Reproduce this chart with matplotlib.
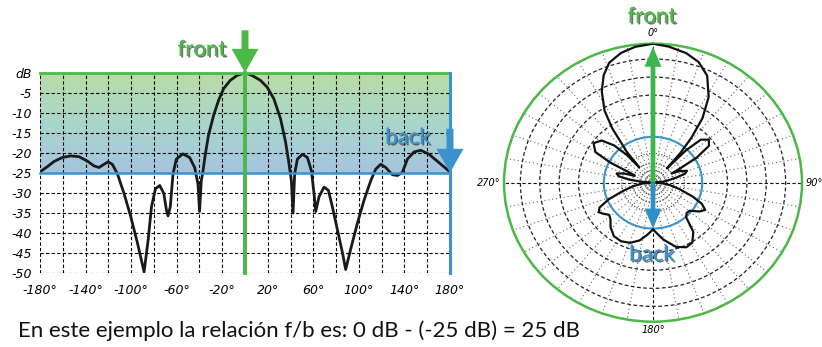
import numpy as np
import matplotlib
matplotlib.use("Agg")
import matplotlib.pyplot as plt
import matplotlib.colors as mcolors
import matplotlib.patheffects as pe

# pattern (angle in degrees, level in dB)
angles = [-180, -173.6, -167.7, -160.4, -153, -145.7, -138.4, -132.6, -128.2, -123.8,
          -120.3, -116.5, -112, -106.2, -100.3, -94.5, -88.6, -85.0, -82.1, -78.6,
          -74.8, -71.3, -69, -67.6, -65.6, -63.2, -60.3, -54.5, -48.6, -44.2,
          -41.3, -39.9, -38.4, -37.1, -35, -32.1, -27.6, -23.2, -18.8, -12.9,
          -7, 0, 6.2, 13.5, 19.4, 25.3, 31.2, 35.6, 38.5, 40.7,
          42.2, 43.6, 46, 50.4, 54.8, 58.3, 60.6, 62.1, 65, 69.4,
          73.2, 76.7, 81.1, 85.5, 88.4, 92.8, 98.7, 104.5, 110.4, 114.8,
          119.2, 123.6, 129.4, 133.8, 138.2, 142.6, 148.5, 154.3, 161.6, 170.4, 180]
levels = [-24.8, -23.5, -22.2, -21.2, -20.8, -21.0, -22.1, -23.3, -23.7, -22.9,
          -22.3, -22.9, -25.3, -30.2, -36, -42.5, -49.8, -41.7, -33.5, -29,
          -28.2, -30.2, -34.3, -35.8, -33.5, -25.3, -21.6, -20.3, -21.2, -23.7,
          -27.8, -34.7, -27, -25, -20.7, -15.7, -10.7, -6.9, -4, -1.9,
          -0.7, 0, -0.7, -1.9, -3.6, -6.5, -11.5, -17.3, -22.5, -27,
          -35.1, -25.3, -21.6, -20.4, -21.2, -24.5, -30.2, -34.7, -31, -28.6,
          -29.4, -33.5, -39.2, -44.9, -49.2, -44.1, -37.6, -31.9, -27, -24.1,
          -22.9, -23.7, -25.5, -25.7, -24.9, -21.6, -19.8, -19.4, -20.4, -22.5, -24.8]

front_db = 0
back_db = -25

x_ticks = [-180, -140, -100, -60, -20, 20, 60, 100, 140, 180]
y_ticks = [0, -5, -10, -15, -20, -25, -30, -35, -40, -45, -50]
y_labels = ['dB'] + [str(v) for v in y_ticks[1:]]

# radial scale of the polar chart (dB -> relative radius)
ring_db = [-50, -45, -40, -35, -30, -25, -20, -15, -10, -5, 0]
ring_r = [0, 0.05, 0.09, 0.14, 0.21, 0.33, 0.50, 0.63, 0.76, 0.89, 1.0]

green = '#4cb848'
blue = '#3a93cc'

fig = plt.figure(figsize=(8.22, 3.47), dpi=100)
fig.patch.set_facecolor('white')

# ---------------- rectangular plot ----------------
ax = fig.add_axes([40/822, 1-272.7/347, 410/822, 200/347])
ax.set_xlim(-180, 180)
ax.set_ylim(-50, 0)

grad = mcolors.LinearSegmentedColormap.from_list('fb', ['#a4c5df', '#a9d6cb', '#b9dca6'])
ax.imshow(np.linspace(0, 1, 256).reshape(-1, 1), extent=[-180, 180, back_db, front_db],
          aspect='auto', cmap=grad, origin='lower', zorder=0)

ax.set_xticks(x_ticks)
ax.set_xticks(range(-160, 180, 40), minor=True)
ax.set_xticklabels([f'{v}°' for v in x_ticks])
ax.set_yticks(y_ticks)
ax.set_yticklabels(y_labels)
ax.grid(True, which='both', color='black', linestyle=(0, (3, 2)), linewidth=0.8)
ax.tick_params(which='both', length=0, labelsize=9)
ax.tick_params(axis='x', pad=8)
ax.tick_params(axis='y', pad=6)
for lbl in ax.get_xticklabels() + ax.get_yticklabels():
    lbl.set_fontstyle('italic')
for s in ax.spines.values():
    s.set_visible(False)

ax.plot(angles, levels, color='#1a1a1a', lw=2, zorder=4)
ax.axhline(front_db, color=green, lw=2, zorder=5, clip_on=False)
ax.axhline(back_db, color=blue, lw=1.8, zorder=5, clip_on=False)
ax.axvline(180, color=blue, lw=2.2, zorder=5, clip_on=False)
ax.axvline(0, color=green, lw=2.8, zorder=5, clip_on=False)

ax.annotate('', xy=(0, front_db), xytext=(0, front_db + 10.6), annotation_clip=False,
            arrowprops=dict(arrowstyle='simple,head_length=0.86,head_width=0.97,tail_width=0.25',
                            color=green, lw=0, mutation_scale=20, shrinkA=0, shrinkB=0), zorder=6)
ax.annotate('', xy=(180, back_db), xytext=(180, back_db + 11), annotation_clip=False,
            arrowprops=dict(arrowstyle='simple,head_length=0.86,head_width=0.97,tail_width=0.25',
                            color=blue, lw=0, mutation_scale=20, shrinkA=0, shrinkB=0), zorder=6)

shadow = [pe.withSimplePatchShadow(offset=(1, -1), shadow_rgbFace='#333333', alpha=0.7), pe.Normal()]
fig.text(202/822, 1-50/347, 'front', color=green, fontsize=16, family='Lato',
         ha='center', va='center', path_effects=shadow)
fig.text(408/822, 1-138/347, 'back', color=blue, fontsize=16, family='Lato',
         ha='center', va='center', path_effects=shadow)

# ---------------- polar plot ----------------
pax = fig.add_axes([504/822, 1-321.7/347, 298/822, 278/347], projection='polar')
pax.set_theta_zero_location('N')
pax.set_theta_direction(-1)
pax.set_rscale('function', functions=(lambda d: np.interp(d, ring_db, ring_r),
                                      lambda r: np.interp(r, ring_r, ring_db)))
pax.set_rlim(-50, 0)
pax.set_aspect('auto')

pax.set_rticks(ring_db)
pax.set_yticklabels([])
pax.set_thetagrids(range(0, 360, 10), labels=[''] * 36)
pax.tick_params(length=0)
pax.grid(True)
for d, gl in zip(ring_db, pax.yaxis.get_gridlines()):
    if d == back_db:
        gl.set(color=blue, linestyle='-', linewidth=1.5, zorder=3)
    elif d <= -30:
        gl.set(color='#333333', linestyle=(0, (1, 1.5)), linewidth=0.8)
    else:
        gl.set(color='#222222', linestyle=(0, (3, 2)), linewidth=0.9)
for a, gl in zip(range(0, 360, 10), pax.xaxis.get_gridlines()):
    if a % 90 == 0:
        gl.set(color='#111111', linestyle=(0, (3, 2)), linewidth=0.8)
    else:
        gl.set(color='#666666', linestyle=(0, (1, 2.5)), linewidth=0.8)
pax.spines['polar'].set_color(green)
pax.spines['polar'].set_linewidth(1.8)

pax.plot(np.radians(angles), levels, color='#111111', lw=1.6, zorder=4)

pax.annotate('', xy=(0, front_db - 1), xytext=(0, -50),
             arrowprops=dict(arrowstyle='simple,head_length=0.72,head_width=0.61,tail_width=0.17',
                             color='#3cb54a', lw=0, mutation_scale=20, shrinkA=0, shrinkB=0), zorder=6)
pax.annotate('', xy=(np.pi, back_db), xytext=(np.pi, -50),
             arrowprops=dict(arrowstyle='simple,head_length=0.72,head_width=0.61,tail_width=0.17',
                             color='#2f90c8', lw=0, mutation_scale=20, shrinkA=0, shrinkB=0), zorder=6)

lab = dict(fontsize=7, fontstyle='italic', transform=pax.transAxes, va='center')
pax.text(0.5, 1.038, '0°', ha='center', **lab)
pax.text(0.5, -0.03, '180°', ha='center', **lab)
pax.text(-0.013, 0.5, '270°', ha='right', **lab)
pax.text(1.013, 0.5, '90°', ha='left', **lab)

fig.text(652/822, 1-17/347, 'front', color=green, fontsize=16, family='Lato',
         ha='center', va='center', path_effects=shadow)
fig.text(652/822, 1-255/347, 'back', color=blue, fontsize=16, family='Lato',
         ha='center', va='center', path_effects=shadow)

fig.text(18/822, 1-331/347, 'En este ejemplo la relación f/b es: 0 dB - (-25 dB) = 25 dB',
         fontsize=16, family='Lato', ha='left', va='center', color='#111111')

fig.savefig('out.png', dpi=100)
